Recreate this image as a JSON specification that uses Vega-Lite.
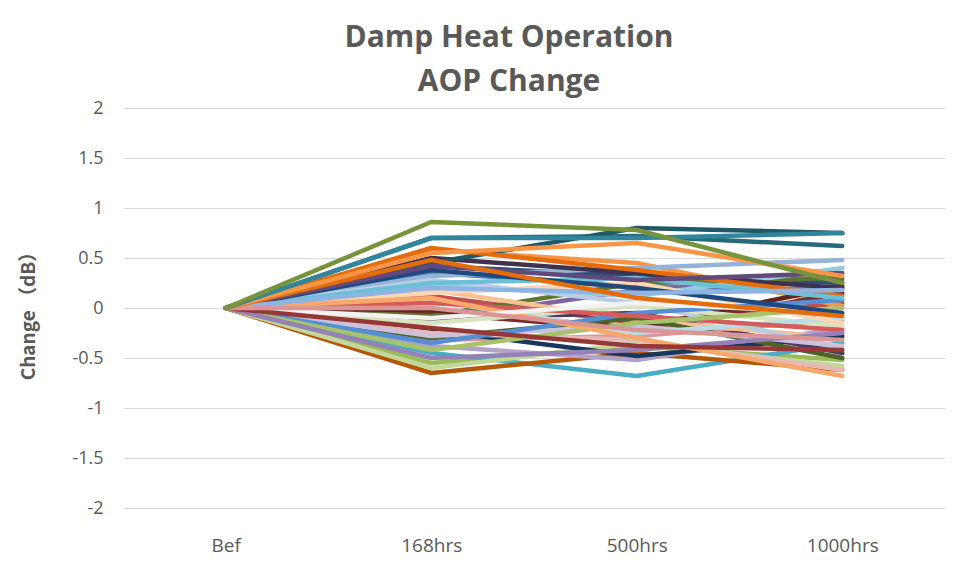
{
  "$schema": "https://vega.github.io/schema/vega-lite/v6.json",
  "width": 822,
  "height": 400,
  "autosize": {"type": "none"},
  "padding": {"left": 123, "top": 108, "right": 13, "bottom": 64},
  "background": "white",
  "title": {
    "text": ["Damp Heat Operation", "AOP Change"],
    "anchor": "middle",
    "frame": "group",
    "dx": -25,
    "offset": 2,
    "fontSize": 30,
    "font": "Open Sans",
    "fontWeight": "bold",
    "color": "#595959",
    "lineHeight": 44
  },
  "config": {
    "view": {"stroke": null},
    "axis": {"labelFont": "Open Sans", "titleFont": "Noto Sans CJK SC", "labelColor": "#595959", "titleColor": "#595959"}
  },
  "data": {"values": [
    {"s":"s01","t":"Bef","v":0},{"s":"s01","t":"168hrs","v":0.35},{"s":"s01","t":"500hrs","v":0.22},{"s":"s01","t":"1000hrs","v":0.18},
    {"s":"s02","t":"Bef","v":0},{"s":"s02","t":"168hrs","v":0.12},{"s":"s02","t":"500hrs","v":-0.15},{"s":"s02","t":"1000hrs","v":0.05},
    {"s":"s03","t":"Bef","v":0},{"s":"s03","t":"168hrs","v":-0.55},{"s":"s03","t":"500hrs","v":-0.38},{"s":"s03","t":"1000hrs","v":-0.52},
    {"s":"s04","t":"Bef","v":0},{"s":"s04","t":"168hrs","v":-0.12},{"s":"s04","t":"500hrs","v":0.18},{"s":"s04","t":"1000hrs","v":0.28},
    {"s":"s05","t":"Bef","v":0},{"s":"s05","t":"168hrs","v":-0.45},{"s":"s05","t":"500hrs","v":-0.68},{"s":"s05","t":"1000hrs","v":-0.35},
    {"s":"s06","t":"Bef","v":0},{"s":"s06","t":"168hrs","v":0.58},{"s":"s06","t":"500hrs","v":0.45},{"s":"s06","t":"1000hrs","v":0.02},
    {"s":"s07","t":"Bef","v":0},{"s":"s07","t":"168hrs","v":0.42},{"s":"s07","t":"500hrs","v":0.32},{"s":"s07","t":"1000hrs","v":0.25},
    {"s":"s08","t":"Bef","v":0},{"s":"s08","t":"168hrs","v":-0.05},{"s":"s08","t":"500hrs","v":-0.22},{"s":"s08","t":"1000hrs","v":0.15},
    {"s":"s09","t":"Bef","v":0},{"s":"s09","t":"168hrs","v":-0.08},{"s":"s09","t":"500hrs","v":0.25},{"s":"s09","t":"1000hrs","v":0.3},
    {"s":"s10","t":"Bef","v":0},{"s":"s10","t":"168hrs","v":-0.1},{"s":"s10","t":"500hrs","v":-0.05},{"s":"s10","t":"1000hrs","v":-0.45},
    {"s":"s11","t":"Bef","v":0},{"s":"s11","t":"168hrs","v":0.7},{"s":"s11","t":"500hrs","v":0.72},{"s":"s11","t":"1000hrs","v":0.62},
    {"s":"s12","t":"Bef","v":0},{"s":"s12","t":"168hrs","v":-0.65},{"s":"s12","t":"500hrs","v":-0.45},{"s":"s12","t":"1000hrs","v":-0.62},
    {"s":"s13","t":"Bef","v":0},{"s":"s13","t":"168hrs","v":0.32},{"s":"s13","t":"500hrs","v":0.4},{"s":"s13","t":"1000hrs","v":0.48},
    {"s":"s14","t":"Bef","v":0},{"s":"s14","t":"168hrs","v":-0.32},{"s":"s14","t":"500hrs","v":-0.28},{"s":"s14","t":"1000hrs","v":-0.12},
    {"s":"s15","t":"Bef","v":0},{"s":"s15","t":"168hrs","v":-0.6},{"s":"s15","t":"500hrs","v":-0.35},{"s":"s15","t":"1000hrs","v":-0.58},
    {"s":"s16","t":"Bef","v":0},{"s":"s16","t":"168hrs","v":-0.38},{"s":"s16","t":"500hrs","v":-0.52},{"s":"s16","t":"1000hrs","v":-0.2},
    {"s":"s17","t":"Bef","v":0},{"s":"s17","t":"168hrs","v":0.22},{"s":"s17","t":"500hrs","v":0.12},{"s":"s17","t":"1000hrs","v":0.4},
    {"s":"s18","t":"Bef","v":0},{"s":"s18","t":"168hrs","v":0.18},{"s":"s18","t":"500hrs","v":-0.12},{"s":"s18","t":"1000hrs","v":-0.3},
    {"s":"s19","t":"Bef","v":0},{"s":"s19","t":"168hrs","v":-0.22},{"s":"s19","t":"500hrs","v":-0.48},{"s":"s19","t":"1000hrs","v":-0.28},
    {"s":"s20","t":"Bef","v":0},{"s":"s20","t":"168hrs","v":-0.02},{"s":"s20","t":"500hrs","v":-0.2},{"s":"s20","t":"1000hrs","v":0.22},
    {"s":"s21","t":"Bef","v":0},{"s":"s21","t":"168hrs","v":-0.3},{"s":"s21","t":"500hrs","v":-0.1},{"s":"s21","t":"1000hrs","v":-0.5},
    {"s":"s22","t":"Bef","v":0},{"s":"s22","t":"168hrs","v":0.5},{"s":"s22","t":"500hrs","v":0.35},{"s":"s22","t":"1000hrs","v":0.2},
    {"s":"s23","t":"Bef","v":0},{"s":"s23","t":"168hrs","v":0.45},{"s":"s23","t":"500hrs","v":0.8},{"s":"s23","t":"1000hrs","v":0.75},
    {"s":"s24","t":"Bef","v":0},{"s":"s24","t":"168hrs","v":0.6},{"s":"s24","t":"500hrs","v":0.38},{"s":"s24","t":"1000hrs","v":0.12},
    {"s":"s25","t":"Bef","v":0},{"s":"s25","t":"168hrs","v":0.28},{"s":"s25","t":"500hrs","v":0.05},{"s":"s25","t":"1000hrs","v":-0.4},
    {"s":"s26","t":"Bef","v":0},{"s":"s26","t":"168hrs","v":-0.25},{"s":"s26","t":"500hrs","v":-0.32},{"s":"s26","t":"1000hrs","v":-0.62},
    {"s":"s27","t":"Bef","v":0},{"s":"s27","t":"168hrs","v":-0.15},{"s":"s27","t":"500hrs","v":0.02},{"s":"s27","t":"1000hrs","v":-0.18},
    {"s":"s28","t":"Bef","v":0},{"s":"s28","t":"168hrs","v":-0.28},{"s":"s28","t":"500hrs","v":-0.18},{"s":"s28","t":"1000hrs","v":-0.38},
    {"s":"s29","t":"Bef","v":0},{"s":"s29","t":"168hrs","v":0.08},{"s":"s29","t":"500hrs","v":-0.25},{"s":"s29","t":"1000hrs","v":-0.1},
    {"s":"s30","t":"Bef","v":0},{"s":"s30","t":"168hrs","v":0.15},{"s":"s30","t":"500hrs","v":0.25},{"s":"s30","t":"1000hrs","v":-0.15},
    {"s":"s31","t":"Bef","v":0},{"s":"s31","t":"168hrs","v":-0.35},{"s":"s31","t":"500hrs","v":-0.05},{"s":"s31","t":"1000hrs","v":0.08},
    {"s":"s32","t":"Bef","v":0},{"s":"s32","t":"168hrs","v":0.05},{"s":"s32","t":"500hrs","v":-0.08},{"s":"s32","t":"1000hrs","v":-0.22},
    {"s":"s33","t":"Bef","v":0},{"s":"s33","t":"168hrs","v":-0.42},{"s":"s33","t":"500hrs","v":-0.15},{"s":"s33","t":"1000hrs","v":0.0},
    {"s":"s34","t":"Bef","v":0},{"s":"s34","t":"168hrs","v":-0.5},{"s":"s34","t":"500hrs","v":-0.42},{"s":"s34","t":"1000hrs","v":-0.25},
    {"s":"s35","t":"Bef","v":0},{"s":"s35","t":"168hrs","v":0.25},{"s":"s35","t":"500hrs","v":0.3},{"s":"s35","t":"1000hrs","v":0.1},
    {"s":"s36","t":"Bef","v":0},{"s":"s36","t":"168hrs","v":0.1},{"s":"s36","t":"500hrs","v":-0.3},{"s":"s36","t":"1000hrs","v":-0.68},
    {"s":"s37","t":"Bef","v":0},{"s":"s37","t":"168hrs","v":-0.1},{"s":"s37","t":"500hrs","v":0.05},{"s":"s37","t":"1000hrs","v":-0.05},
    {"s":"s38","t":"Bef","v":0},{"s":"s38","t":"168hrs","v":0.38},{"s":"s38","t":"500hrs","v":0.2},{"s":"s38","t":"1000hrs","v":-0.05},
    {"s":"s39","t":"Bef","v":0},{"s":"s39","t":"168hrs","v":0.42},{"s":"s39","t":"500hrs","v":0.28},{"s":"s39","t":"1000hrs","v":0.35},
    {"s":"s40","t":"Bef","v":0},{"s":"s40","t":"168hrs","v":-0.2},{"s":"s40","t":"500hrs","v":-0.38},{"s":"s40","t":"1000hrs","v":-0.42},
    {"s":"s41","t":"Bef","v":0},{"s":"s41","t":"168hrs","v":0.2},{"s":"s41","t":"500hrs","v":0.15},{"s":"s41","t":"1000hrs","v":0.18},
    {"s":"s42","t":"Bef","v":0},{"s":"s42","t":"168hrs","v":0.0},{"s":"s42","t":"500hrs","v":-0.22},{"s":"s42","t":"1000hrs","v":-0.32},
    {"s":"s43","t":"Bef","v":0},{"s":"s43","t":"168hrs","v":0.48},{"s":"s43","t":"500hrs","v":0.1},{"s":"s43","t":"1000hrs","v":-0.08},
    {"s":"s44","t":"Bef","v":0},{"s":"s44","t":"168hrs","v":0.55},{"s":"s44","t":"500hrs","v":0.65},{"s":"s44","t":"1000hrs","v":0.32},
    {"s":"s45","t":"Bef","v":0},{"s":"s45","t":"168hrs","v":0.7},{"s":"s45","t":"500hrs","v":0.7},{"s":"s45","t":"1000hrs","v":0.75},
    {"s":"s46","t":"Bef","v":0},{"s":"s46","t":"168hrs","v":0.86},{"s":"s46","t":"500hrs","v":0.78},{"s":"s46","t":"1000hrs","v":0.25}
  ]},
  "mark": {"type": "line", "strokeWidth": 4.5, "strokeJoin": "round", "strokeCap": "round"},
  "encoding": {
    "x": {
      "field": "t", "type": "ordinal",
      "sort": ["Bef", "168hrs", "500hrs", "1000hrs"],
      "scale": {"type": "point", "padding": 0.5},
      "axis": {"title": null, "labelAngle": 0, "labelFontSize": 19, "ticks": false, "domain": false, "labelPadding": 28, "grid": false}
    },
    "y": {
      "field": "v", "type": "quantitative",
      "scale": {"domain": [-2, 2], "nice": false},
      "axis": {
        "values": [-2, -1.5, -1, -0.5, 0, 0.5, 1, 1.5, 2],
        "labelExpr": "'' + datum.value",
        "labelFontSize": 18, "ticks": false, "domain": false, "labelPadding": 20,
        "gridColor": "#d9d9d9", "gridWidth": 1.2,
        "title": "Change （dB）", "titleFontSize": 19, "titleFontWeight": "bold",
        "titleX": -95, "titleY": 203, "titleAngle": -90, "titleAlign": "center", "titleBaseline": "middle"
      }
    },
    "color": {
      "field": "s", "type": "nominal", "legend": null,
      "scale": {"range": ["#4F81BD","#C0504D","#9BBB59","#8064A2","#4BACC6","#F79646","#2C4D75","#772C2A","#5F7530","#4D3B62","#276A7C","#B65708","#95B3D7","#D99694","#C3D69B","#B3A2C7","#93CDDD","#FAC090","#17375E","#632523","#4F6228","#3F3151","#205867","#E46C0A","#B9CDE5","#E6B9B8","#D7E4BD","#CCC1DA","#B7DEE8","#FCD5B5","#558ED5","#D45D5A","#A6C36B","#9481B5","#6BBFD6","#F9A86B","#F2F2F2","#1F497D","#604A7B","#953735","#8EB4E3","#DA9694","#E46C0A","#F79646","#31859C","#77933C"]}
    }
  }
}
